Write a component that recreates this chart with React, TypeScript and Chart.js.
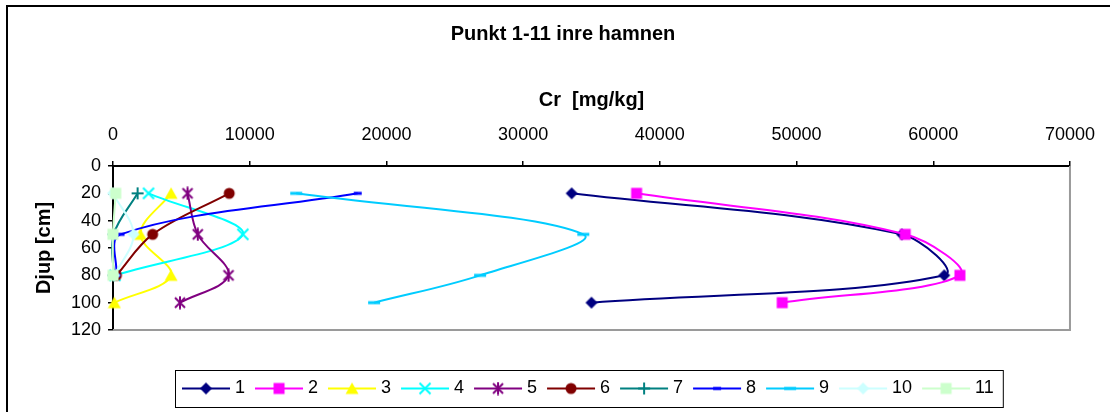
import React, { useEffect, useRef } from 'react';
import { Chart, registerables } from 'chart.js';

Chart.register(...registerables);

// ---- Text ----
const chartTitle = 'Punkt 1-11 inre hamnen';
const xTitle = 'Cr  [mg/kg]';
const yTitle = 'Djup [cm]';

// ---- Data: Cr concentration (mg/kg) at each sampled depth (cm) ----
const depths = [20, 50, 80, 100];
const seriesNames = ['1', '2', '3', '4', '5', '6', '7', '8', '9', '10', '11'];

const p1 = [33550, 57700, 60800, 35000];
const p2 = [38300, 57950, 61950, 48950];
const p3 = [4250, 2000, 4250, 100];
const p4 = [2600, 9500, 150];
const p5 = [5450, 6200, 8450, 4900];
const p6 = [8500, 2900, 250];
const p7 = [1800, 50, 50];
const p8 = [17900, 550, 250];
const p9 = [13400, 34400, 26850, 19100];
const p10 = [0, 1500, 100];
const p11 = [200, 0, 0];

const seriesValues = [p1, p2, p3, p4, p5, p6, p7, p8, p9, p10, p11];

const xTicks = [0, 10000, 20000, 30000, 40000, 50000, 60000, 70000];
const yTicks = [0, 20, 40, 60, 80, 100, 120];

// ---- Styles ----
const seriesColors = [
  '#000080', '#FF00FF', '#FFFF00', '#00FFFF', '#800080', '#800000',
  '#008080', '#0000FF', '#00CCFF', '#CCFFFF', '#CCFFCC',
];
const markerKinds = [
  'diamond', 'square', 'triangle', 'x', 'star', 'circle',
  'plus', 'dash', 'dashWide', 'diamond', 'square',
];

const FONT = '"Liberation Sans", Arial, sans-serif';

function makeMarker(kind: string, color: string): HTMLCanvasElement {
  const size = 14;
  const c = document.createElement('canvas');
  c.width = size;
  c.height = size;
  const g = c.getContext('2d')!;
  const m = size / 2;
  g.fillStyle = color;
  g.strokeStyle = color;
  g.lineWidth = 2;
  g.beginPath();
  switch (kind) {
    case 'diamond':
      g.moveTo(m, m - 6);
      g.lineTo(m + 6, m);
      g.lineTo(m, m + 6);
      g.lineTo(m - 6, m);
      g.closePath();
      g.fill();
      break;
    case 'square':
      g.fillRect(m - 5.5, m - 5.5, 11, 11);
      break;
    case 'triangle':
      g.moveTo(m, m - 6);
      g.lineTo(m + 6.5, m + 5.5);
      g.lineTo(m - 6.5, m + 5.5);
      g.closePath();
      g.fill();
      break;
    case 'x':
      g.moveTo(m - 5.5, m - 5.5);
      g.lineTo(m + 5.5, m + 5.5);
      g.moveTo(m + 5.5, m - 5.5);
      g.lineTo(m - 5.5, m + 5.5);
      g.stroke();
      break;
    case 'star':
      g.moveTo(m - 5, m - 5);
      g.lineTo(m + 5, m + 5);
      g.moveTo(m + 5, m - 5);
      g.lineTo(m - 5, m + 5);
      g.moveTo(m, m - 6.5);
      g.lineTo(m, m + 6.5);
      g.stroke();
      break;
    case 'circle':
      g.arc(m, m, 5.5, 0, Math.PI * 2);
      g.fill();
      break;
    case 'plus':
      g.moveTo(m - 6, m);
      g.lineTo(m + 6, m);
      g.moveTo(m, m - 6);
      g.lineTo(m, m + 6);
      g.stroke();
      break;
    case 'dash':
      g.fillRect(m - 4, m - 1.5, 8, 3);
      break;
    case 'dashWide':
      g.fillRect(m - 6, m - 1.5, 12, 3);
      break;
  }
  return c;
}

export default function App() {
  const ref = useRef<HTMLCanvasElement>(null);

  useEffect(() => {
    const markers = seriesColors.map((col, i) => makeMarker(markerKinds[i], col));

    const datasets = seriesValues.map((vals, i) => ({
      label: seriesNames[i],
      data: vals.map((v, k) => ({ x: v, y: depths[k] })),
      showLine: true,
      borderColor: seriesColors[i],
      backgroundColor: seriesColors[i],
      borderWidth: 2,
      tension: 0.35,
      pointStyle: markers[i],
      pointRadius: 6,
      clip: false as const,
      order: seriesValues.length - 1 - i,
    }));

    const decor = {
      id: 'decor',
      beforeDatasetsDraw(chart: any) {
        const { ctx, chartArea: a } = chart;
        ctx.save();
        ctx.strokeStyle = '#9a9a9a';
        ctx.lineWidth = 2;
        ctx.beginPath();
        ctx.moveTo(a.right, a.top);
        ctx.lineTo(a.right, a.bottom);
        ctx.lineTo(a.left, a.bottom);
        ctx.stroke();
        ctx.restore();
      },
      afterDraw(chart: any) {
        const { ctx, chartArea: a } = chart;
        ctx.save();

        // outer frame
        ctx.strokeStyle = '#000';
        ctx.lineWidth = 2;
        ctx.beginPath();
        ctx.moveTo(7, 412);
        ctx.lineTo(7, 6);
        ctx.lineTo(1110, 6);
        ctx.stroke();

        // titles
        ctx.fillStyle = '#000';
        ctx.textAlign = 'center';
        ctx.textBaseline = 'middle';
        ctx.font = `bold 20px ${FONT}`;
        ctx.fillText(chartTitle, 563, 34);
        ctx.fillText(xTitle, (a.left + a.right) / 2, 100);
        ctx.save();
        ctx.translate(44, (a.top + a.bottom) / 2);
        ctx.rotate(-Math.PI / 2);
        ctx.fillText(yTitle, 0, 0);
        ctx.restore();

        // legend
        ctx.font = `18px ${FONT}`;
        const lineLen = 48;
        const textGap = 5;
        const itemGap = 10;
        const boxLeft = 175;
        const boxTop = 370;
        const boxH = 37;
        const cy = boxTop + boxH / 2;
        const widths = seriesNames.map((n) => ctx.measureText(n).width);
        let total = 7;
        widths.forEach((w, i) => {
          total += lineLen + textGap + w + (i < widths.length - 1 ? itemGap : 0);
        });
        total += 9;
        ctx.fillStyle = '#fff';
        ctx.fillRect(boxLeft, boxTop, total, boxH);
        ctx.strokeStyle = '#000';
        ctx.lineWidth = 1;
        ctx.strokeRect(boxLeft + 0.5, boxTop + 0.5, total, boxH);
        let x = boxLeft + 7;
        seriesNames.forEach((name, i) => {
          ctx.strokeStyle = seriesColors[i];
          ctx.lineWidth = 2;
          ctx.beginPath();
          ctx.moveTo(x, cy);
          ctx.lineTo(x + lineLen, cy);
          ctx.stroke();
          const mk = markers[i];
          ctx.drawImage(mk, x + lineLen / 2 - mk.width / 2, cy - mk.height / 2);
          ctx.fillStyle = '#000';
          ctx.textAlign = 'left';
          ctx.textBaseline = 'middle';
          ctx.fillText(name, x + lineLen + textGap, cy);
          x += lineLen + textGap + widths[i] + itemGap;
        });

        ctx.restore();
      },
    };

    const chart = new Chart(ref.current!, {
      type: 'scatter',
      data: { datasets },
      options: {
        animation: false,
        responsive: false,
        devicePixelRatio: 1,
        events: [],
        layout: { padding: { left: 0, top: 0, right: 40, bottom: 82 } },
        elements: { line: { capBezierPoints: false } },
        plugins: {
          legend: { display: false },
          title: { display: false },
          tooltip: { enabled: false },
        },
        scales: {
          x: {
            type: 'linear',
            position: 'top',
            min: 0,
            max: 70000,
            afterBuildTicks: (s: any) => {
              s.ticks = xTicks.map((v) => ({ value: v }));
            },
            afterFit: (s: any) => {
              s.height = 166;
            },
            ticks: {
              color: '#000',
              font: { family: FONT, size: 18 },
              padding: 15,
              maxRotation: 0,
              autoSkip: false,
              callback: (v: any) => String(v),
            },
            grid: {
              drawOnChartArea: false,
              drawTicks: true,
              tickLength: 5,
              color: '#000',
              lineWidth: 1.5,
            },
            border: { display: true, color: '#000', width: 2 },
          },
          y: {
            type: 'linear',
            position: 'left',
            reverse: true,
            min: 0,
            max: 120,
            afterBuildTicks: (s: any) => {
              s.ticks = yTicks.map((v) => ({ value: v }));
            },
            afterFit: (s: any) => {
              s.width = 113;
            },
            ticks: {
              color: '#000',
              font: { family: FONT, size: 18 },
              padding: 7,
              autoSkip: false,
              callback: (v: any) => String(v),
            },
            grid: {
              drawOnChartArea: false,
              drawTicks: true,
              tickLength: 5,
              color: '#000',
              lineWidth: 1.5,
            },
            border: { display: true, color: '#000', width: 2 },
          },
        },
      },
      plugins: [decor],
    } as any);

    return () => chart.destroy();
  }, []);

  return (
    <div style={{ position: 'absolute', left: 0, top: 0, width: 1110, height: 412, background: '#fff' }}>
      <canvas ref={ref} width={1110} height={412} style={{ display: 'block', width: 1110, height: 412 }} />
    </div>
  );
}
